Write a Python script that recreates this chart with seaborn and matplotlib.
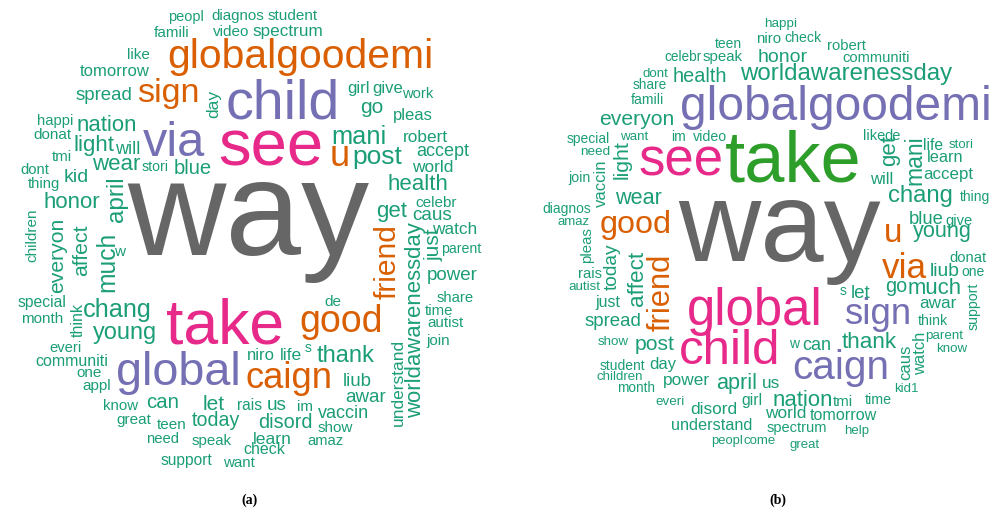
import matplotlib
matplotlib.use("Agg")
import matplotlib.pyplot as plt
import seaborn as sns
import numpy as np

# ---- panel (a): words and their relative weights ----
words_a = ["way", "see", "take", "child", "via", "global", "globalgoodemi", "good", "u",
           "caign", "sign", "friend", "mani", "chang", "post", "april", "much", "young",
           "thank", "nation", "light", "wear", "honor", "health", "get",
           "worldawarenessday", "everyon", "affect", "just", "go", "let", "can", "blue",
           "kid", "disord", "today", "awar", "power", "caus", "us", "liub", "spread",
           "will", "accept", "vaccin", "day", "niro", "life", "understand", "learn",
           "robert", "world", "watch", "spectrum", "tomorrow", "pleas", "girl", "give",
           "think", "student", "diagnos", "peopl", "video", "famili", "like", "work",
           "happi", "donat", "tmi", "stori", "dont", "thing", "children", "w", "special",
           "month", "everi", "communiti", "one", "appl", "know", "great", "teen", "need",
           "speak", "support", "want", "check", "amaz", "show", "im", "rais", "s", "de",
           "celebr", "parent", "share", "time", "autist", "join"]
freq_a = [98, 47, 45, 40, 35, 33.7, 29.4, 27, 26, 26.2, 24.7, 21.6, 18.3, 18.2, 19, 17.5,
          17.7, 16.9, 17, 15.9, 16, 16, 16, 16, 16, 15.9, 15.2, 15.3, 15, 15, 15, 14.7,
          14.5, 14, 14.3, 14.1, 13.5, 13.5, 13.6, 13.6, 13.4, 13.4, 13, 13, 13, 12.5,
          12, 12.6, 12.5, 12.6, 12.4, 12.4, 12.4, 12.3, 12, 12, 12, 12, 11.5, 11, 10.9,
          10.5, 11, 11, 11, 10.6, 10.6, 11, 10.8, 10.2, 10.7, 10.6, 11, 11, 11.3, 11,
          10.6, 11.5, 11, 11, 10.8, 11, 11, 10.7, 10.8, 11.2, 10.9, 11.5, 10.6, 11, 11,
          11.2, 10, 11, 11, 10.2, 10.7, 10.7, 10.9, 11]
# layout of panel (a): centre x, centre y (pixels), rotation
pos_a = [(248, 220, 0), (271, 148, 0), (225, 327, 0), (283, 104, 0), (174, 143, 0),
         (178, 373, 0), (300, 57, 0), (341, 322, 0), (340, 157, 0), (289, 378, 0),
         (168, 93, 0), (388, 262, 90), (359, 137, 0), (117, 310, 0), (377, 157, 0),
         (117, 199, 90), (107, 262, 90), (125, 333, 0), (346, 356, 0), (107, 125, 0),
         (94, 145, 0), (116, 164, 0), (72, 203, 0), (418, 184, 0), (392, 212, 0),
         (416, 320, 90), (58, 255, 90), (82, 250, 90), (434, 245, 90), (372, 107, 0),
         (214, 405, 0), (163, 403, 0), (193, 168, 0), (76, 178, 0), (285, 423, 0),
         (216, 421, 0), (366, 397, 0), (452, 276, 0), (432, 215, 0), (277, 405, 0),
         (357, 381, 0), (104, 95, 0), (128, 149, 0), (443, 152, 0), (343, 413, 0),
         (214, 104, 90), (261, 355, 0), (291, 356, 0), (398, 382, 90), (272, 440, 0),
         (425, 138, 0), (433, 168, 0), (455, 230, 0), (288, 31, 0), (115, 71, 0),
         (413, 115, 0), (359, 88, 0), (388, 88, 0), (78, 320, 90), (293, 16, 0),
         (238, 16, 0), (186, 17, 0), (231, 32, 0), (172, 33, 0), (138, 55, 0),
         (418, 94, 0), (55, 121, 0), (52, 135, 0), (62, 157, 0), (155, 167, 0),
         (35, 170, 0), (44, 184, 0), (32, 235, 90), (120, 252, 0), (42, 302, 0),
         (42, 319, 0), (66, 348, 0), (72, 361, 0), (89, 373, 0), (97, 386, 0),
         (121, 406, 0), (134, 420, 0), (172, 425, 0), (163, 439, 0), (212, 441, 0),
         (186, 460, 0), (239, 463, 0), (264, 450, 0), (325, 441, 0), (335, 428, 0),
         (305, 407, 0), (249, 405, 0), (308, 348, 0), (333, 302, 0), (436, 203, 0),
         (461, 249, 0), (455, 298, 0), (439, 311, 0), (445, 323, 0), (438, 341, 0)]

# ---- panel (b) ----
words_b = ["way", "take", "see", "global", "child", "globalgoodemi", "caign", "sign", "via",
           "u", "good", "friend", "worldawarenessday", "chang", "mani", "affect", "thank",
           "get", "april", "much", "nation", "light", "young", "wear", "everyon", "post",
           "health", "honor", "go", "liub", "today", "spread", "blue", "let", "can",
           "power", "disord", "world", "awar", "us", "accept", "vaccin", "caus", "watch",
           "will", "day", "learn", "understand", "tomorrow", "just", "girl", "life",
           "niro", "speak", "pleas", "tmi", "robert", "rais", "communiti", "donat", "give",
           "like", "de", "spectrum", "time", "check", "famili", "video", "join", "think",
           "support", "teen", "diagnos", "special", "student", "im", "w", "s", "thing",
           "one", "month", "celebr", "share", "dont", "happi", "need", "autist", "want",
           "show", "everi", "parent", "know", "stori", "amaz", "children", "kid1", "help",
           "great", "peopl", "come"]
freq_b = [82, 52, 38, 36.7, 35.5, 34.5, 29.2, 26.3, 25.3, 24, 23.3, 22.2, 17.3, 17.2, 16.6,
          16.2, 16.2, 16, 15.6, 15.9, 15.9, 15.3, 15.6, 15.6, 15.2, 15.2, 14.3, 14, 14.2,
          13.9, 13.8, 13.4, 13.3, 13.5, 13, 12.4, 12.4, 12.4, 12.3, 12.3, 12.2, 12, 12,
          11.9, 12, 12, 11.7, 11.7, 11.6, 11.5, 11.3, 11.3, 10.8, 10.8, 10.8, 10.8, 10.7,
          10.7, 10.6, 10.6, 10.6, 10.5, 10.5, 10.5, 10.3, 10.2, 10.2, 10.2, 10.2, 10.2,
          10.2, 10, 10, 10, 10, 10, 10, 10, 10, 10, 9.8, 9.8, 9.8, 9.6, 9.7, 9.7, 9.6,
          9.6, 9.6, 9.6, 9.6, 9.6, 9.5, 9.5, 9.5, 9.5, 9.5, 9.5, 9.4, 9.5]
pos_b = [(779, 232, 0), (793, 163, 0), (681, 161, 0), (755, 312, 0), (730, 352, 0),
         (836, 107, 0), (841, 368, 0), (878, 315, 0), (904, 268, 0), (893, 234, 0),
         (636, 225, 0), (662, 292, 90), (846, 74, 0), (920, 196, 0), (915, 160, 90),
         (637, 278, 90), (869, 343, 0), (890, 151, 90), (737, 384, 0), (935, 289, 0),
         (803, 400, 0), (622, 160, 90), (942, 232, 0), (638, 199, 0), (637, 119, 0),
         (655, 345, 0), (700, 76, 0), (783, 57, 0), (896, 286, 0), (945, 272, 0),
         (612, 267, 90), (613, 322, 0), (926, 220, 0), (861, 293, 0), (817, 345, 0),
         (686, 381, 0), (714, 409, 0), (786, 413, 0), (938, 303, 0), (771, 384, 0),
         (948, 174, 0), (601, 183, 90), (906, 362, 90), (921, 353, 90), (882, 179, 0),
         (663, 365, 0), (945, 158, 0), (712, 426, 0), (843, 415, 0), (608, 303, 0),
         (752, 401, 0), (933, 145, 0), (769, 39, 0), (723, 57, 0), (587, 245, 90),
         (843, 402, 0), (847, 46, 0), (590, 274, 0), (876, 58, 0), (968, 258, 0),
         (959, 221, 0), (874, 136, 0), (893, 136, 0), (797, 428, 0), (878, 400, 0),
         (803, 38, 0), (647, 100, 0), (710, 137, 0), (579, 178, 0), (933, 321, 0),
         (974, 306, 90), (728, 44, 0), (567, 209, 0), (588, 139, 0), (622, 366, 0),
         (678, 137, 0), (794, 344, 0), (843, 291, 0), (975, 197, 0), (973, 272, 0),
         (636, 388, 0), (683, 57, 0), (650, 85, 0), (655, 74, 0), (781, 24, 0),
         (595, 152, 0), (584, 287, 0), (634, 137, 0), (613, 342, 0), (670, 402, 0),
         (944, 336, 0), (952, 349, 0), (961, 145, 0), (574, 222, 0), (620, 377, 0),
         (906, 389, 0), (857, 431, 0), (805, 445, 0), (727, 441, 0), (760, 441, 0)]

panel_labels = ["(a)", "(b)"]

# colour tiers by weight (Dark2-like, as in R wordcloud)
dark2 = sns.color_palette("Dark2")
teal, orange, purple, pink, gray = dark2[0], dark2[1], dark2[2], dark2[3], dark2[7]
green = "#2E9E2A"
tiers_a = ([20, 32, 44, 60], [teal, orange, purple, pink, gray])
tiers_b = ([20, 26, 35, 45, 60], [teal, orange, purple, pink, green, gray])

sns.set_theme(style="white")
plt.rcParams["font.family"] = ["Liberation Sans", "DejaVu Sans"]

fig = plt.figure(figsize=(10.08, 5.09), dpi=100)
ax = fig.add_axes([0, 0, 1, 1])
ax.set_xlim(0, 1008)
ax.set_ylim(509, 0)
ax.axis("off")


def draw_cloud(ax, words, freq, pos, tiers):
    bins, cols = tiers
    for w, f, (x, y, r) in zip(words, freq, pos):
        c = cols[int(np.digitize(f, bins))]
        ax.text(x, y, w, fontsize=f, color=c, rotation=r,
                ha="center", va="center")


draw_cloud(ax, words_a, freq_a, pos_a, tiers_a)
draw_cloud(ax, words_b, freq_b, pos_b, tiers_b)

for lbl, x in zip(panel_labels, [250, 778]):
    ax.text(x, 500, lbl, fontsize=10, fontweight="bold", family="Liberation Serif",
            ha="center", va="center", color="black")

plt.savefig("out.png", dpi=100)
